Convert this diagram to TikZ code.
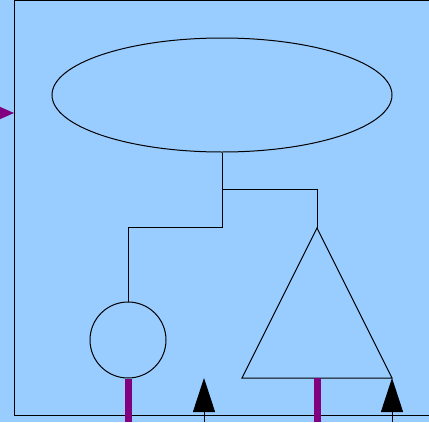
\documentclass[tikz,border=0pt]{standalone}
\usepackage{tikz}
\usetikzlibrary{arrows.meta,shapes.geometric,positioning}
\definecolor{bgblue}{RGB}{153,204,255}
\definecolor{wirepurple}{RGB}{128,0,128}
\tikzstyle{wire} = [line width=0.75pt, draw=black]
\tikzstyle{bus} = [line width=5.25pt, draw=wirepurple]
\tikzstyle{inarrow} = [line width=0.75pt, -{Triangle[length=25.5pt,width=16.5pt]}]

\begin{document}
\begin{tikzpicture}[x=0.75pt, y=-0.75pt]
% background and frame
\fill[bgblue] (0,0) rectangle (429,422);
\useasboundingbox (0,0) rectangle (429,422);
\draw[wire] (14,0) rectangle (440,415);

% shapes
\node[ellipse, wire, minimum width=255pt, minimum height=85.5pt, inner sep=0pt] (top) at (222,95) {};
\node[circle, wire, minimum size=57pt, inner sep=0pt] (ball) at (128,340) {};
\coordinate (apex) at (317,228);
\coordinate (triL) at (242,378);
\coordinate (triR) at (392,378);
\draw[wire] (apex) -- (triL) -- (triR) -- cycle;

% connectors
\coordinate (fork) at (222,189);
\draw[wire] (top.south) -- (fork) -| (apex);
\draw[wire] (fork) |- (128,227) -- (ball.north);

% buses and inputs
\coordinate (busA) at (128,422);
\coordinate (busB) at (317,422);
\draw[bus] (ball.south) -- (busA);
\draw[bus] (317,378) -- (busB);
\coordinate (inA) at (204,422);
\coordinate (inAtip) at (204,378);
\draw[inarrow] (inA) -- (inAtip);
\coordinate (inB) at (392,422);
\draw[inarrow] (inB) -- (triR);
\coordinate (left) at (0,113);
\coordinate (leftTip) at (14,113);
\draw[wirepurple, line width=0.75pt, -{Triangle[length=10.5pt,width=9pt]}] (left) -- (leftTip);
\end{tikzpicture}
\end{document}
